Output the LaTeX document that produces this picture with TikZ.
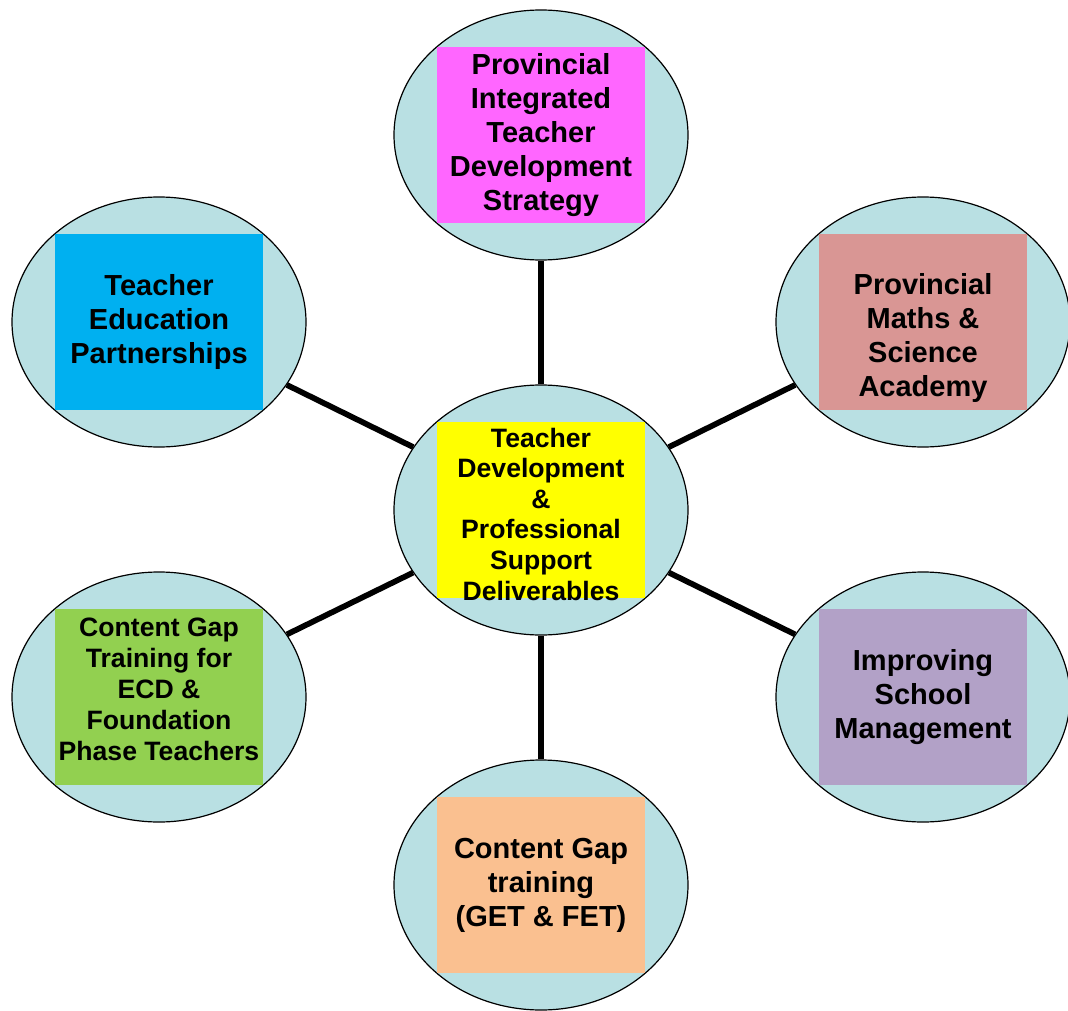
\documentclass[tikz,border=0pt]{standalone}
\usepackage{fontspec}
\setmainfont{Liberation Sans}
\usepackage{tikz}
\usetikzlibrary{shapes.geometric}

\definecolor{bubbleblue}{HTML}{B9E0E3}
\definecolor{hubyellow}{HTML}{FFFF00}
\definecolor{stratpink}{HTML}{FF66FF}
\definecolor{partblue}{HTML}{00B0F0}
\definecolor{academyrose}{HTML}{D99694}
\definecolor{ecdgreen}{HTML}{92D050}
\definecolor{mgmtpurple}{HTML}{B2A1C7}
\definecolor{gaporange}{HTML}{FAC090}

\begin{document}
\begin{tikzpicture}[x=1pt, y=-1pt,
        bubble/.style={ellipse, draw, line width=1.2pt, fill=bubbleblue,
            minimum width=294pt, minimum height=250pt, inner sep=0pt},
        tile/.style={rectangle, minimum width=208pt, minimum height=176pt, inner sep=0pt},
        tiletext/.style={align=center, inner sep=0pt, font=\bfseries\fontsize{29}{34}\selectfont},
        small/.style={font=\bfseries\fontsize{26.6}{30.6}\selectfont},
        spoke/.style={line width=5.7pt}]
    \useasboundingbox (0,0) rectangle (1068,1011);
    \node[bubble] (hub) at (541,510) {};
    \node[tile, fill=hubyellow] (hub-tile) at (hub) {};
    \foreach \nm/\x/\y/\col in {top/541/135/stratpink, ul/159/322/partblue, ur/923/322/academyrose,
            ll/159/697/ecdgreen, lr/923/697/mgmtpurple, bot/541/885/gaporange} {
            \node[bubble] (\nm) at (\x,\y) {};
            \draw[spoke] (hub) -- (\nm);
            \node[tile, fill=\col] (\nm-tile) at (\nm) {};
        };
    % texts
    \node[tiletext, small] (hub-text) at (541,514)
        {Teacher\\Development\\\&\\Professional\\Support\\Deliverables};
    \node[tiletext] (top-text) at (541,135)
        {Provincial\\Integrated\\Teacher\\Development\\Strategy};
    \node[tiletext] (ul-text) at (159,322)
        {Teacher\\Education\\Partnerships};
    \node[tiletext] (ur-text) at (923,338)
        {Provincial\\Maths \&\\Science\\Academy};
    \node[tiletext, font=\bfseries\fontsize{26.6}{31}\selectfont] (ll-text) at (159,689)
        {Content Gap\\Training for\\ECD \&\\Foundation\\Phase Teachers};
    \node[tiletext] (lr-text) at (923,697)
        {Improving\\School\\Management};
    \node[tiletext] (bot-text) at (541,885)
        {Content Gap\\training\\(GET \& FET)};
\end{tikzpicture}
\end{document}
